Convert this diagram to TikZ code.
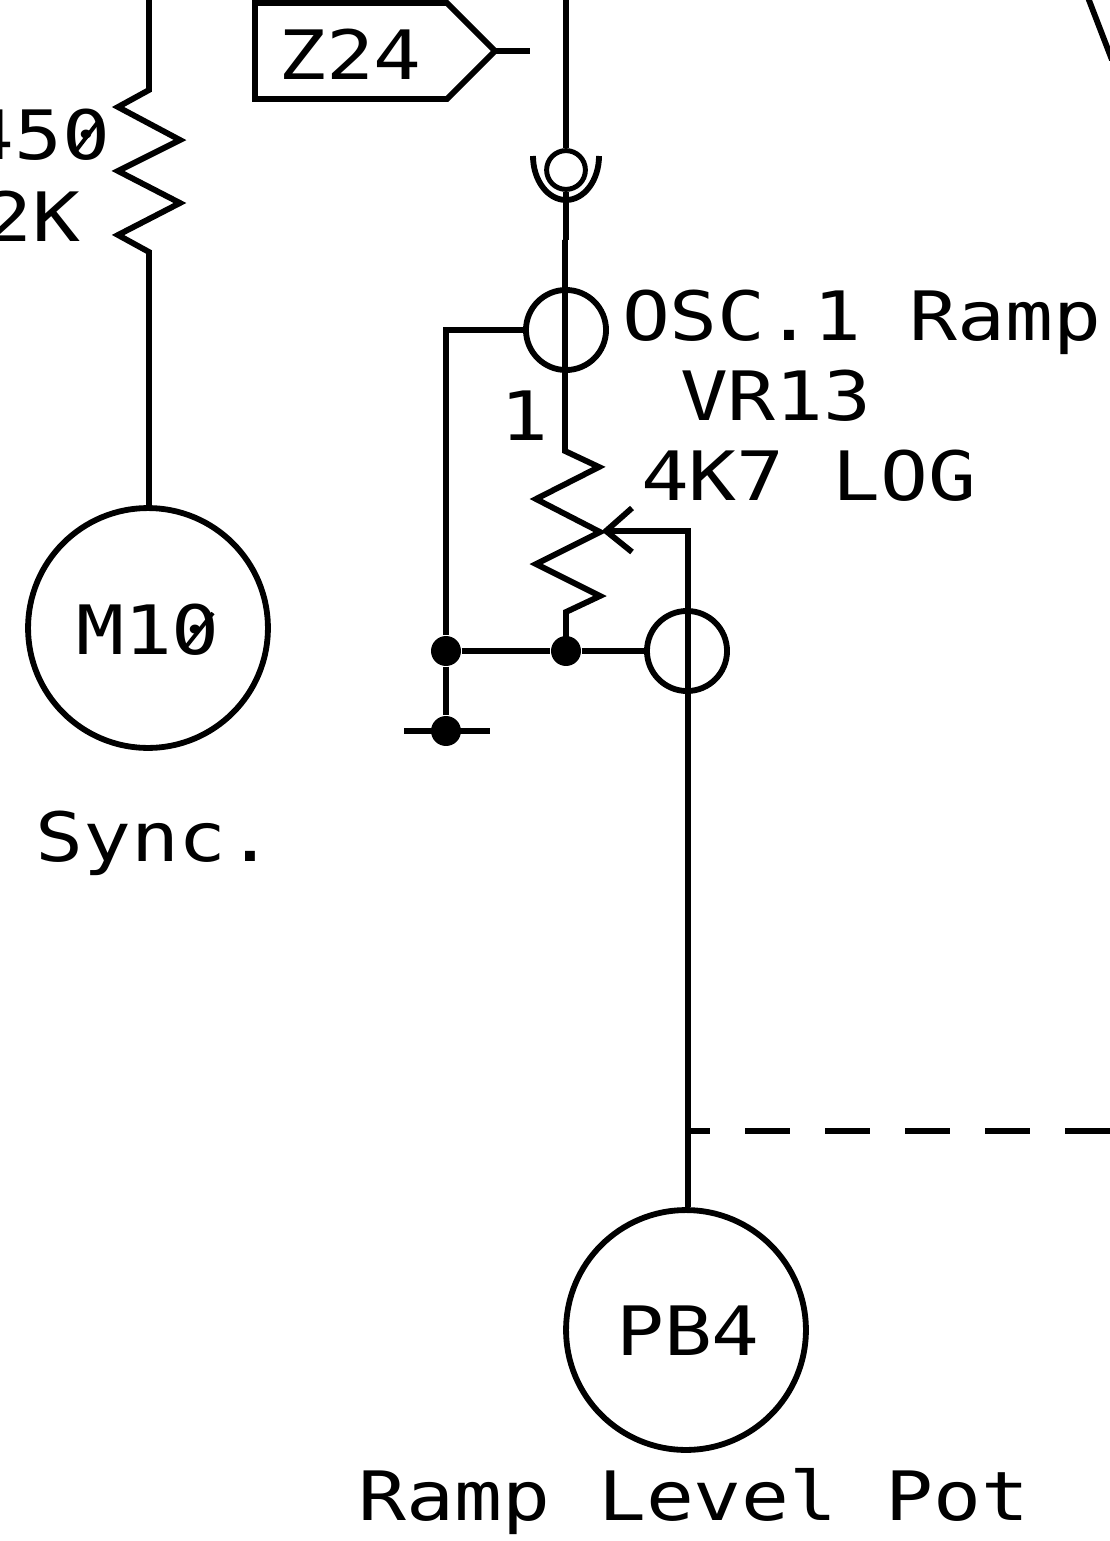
\documentclass[tikz,border=0pt]{standalone}
\usepackage{fontspec}
\setmonofont{DejaVu Sans Mono}
\tikzset{
  wire/.style={line width=1.65pt, line join=miter},
  lbl/.style={inner sep=0pt, outer sep=0pt, font=\ttfamily\fontsize{19.3pt}{22pt}\selectfont, xscale=1.17, text=black},
  pad/.style={circle, draw, line width=1.65pt, minimum size=68pt, inner sep=0pt},
  ring/.style={circle, draw, line width=1.65pt, minimum size=22.7pt, inner sep=0pt},
  dotnode/.style={circle, fill=black, minimum size=8.5pt, inner sep=0pt}
}
\begin{document}
\begin{tikzpicture}[x=0.2835pt, y=-0.2835pt]
\useasboundingbox (0,0) rectangle (1110,1541);
% left column
\coordinate (t1) at (149,-5);
\coordinate (r1) at (149,252);
\node[pad] (M10) at (148,628) {};
\node[lbl] (m10t) at (148,630) {M10};
\draw[wire] (t1) -- (149,90) -- (118,107) -- (180,140) -- (118,171) -- (180,203) -- (118,235) -- (r1) -- (r1 |- M10.north);
\node[lbl, anchor=east] (r450) at (110,135) {450};
\node[lbl, anchor=east] (r2k) at (80,216) {2K};
\draw[line width=1.1pt] (75,152) -- (101,118);
\draw[line width=1.1pt] (185,648) -- (213,613);
\node[lbl] (sync) at (155,843) {Sync.};
% Z24 flag
\coordinate (z0) at (255,3);
\coordinate (ztip) at (495,51);
\coordinate (zend) at (530,51);
\draw[wire] (z0) -- (447,3) -- (ztip) -- (447,99) -- (255,99) -- cycle;
\draw[wire] (ztip) -- (zend);
\node[lbl] (z24) at (350,54) {Z24};
% centre
\coordinate (t2) at (566,-5);
\node[circle, draw, line width=1.4pt, minimum size=11pt, inner sep=0pt] (jack) at (566,170) {};
\draw[wire] (533,156) arc[start angle=180, end angle=0, x radius=33, y radius=44];
\draw[wire] (t2) -- (jack.north);
\node[ring] (sw) at (566,330) {};
\draw[wire] (jack.south) -- (566,240);
\draw[wire] (565,240) -- (565,451) -- (599,467) -- (536,499) -- (600,532) -- (536,564) -- (600,596) -- (566,612) -- (566,651);
\node[dotnode] (d2) at (566,651) {};
\node[dotnode] (d1) at (446,651) {};
\node[dotnode] (gnd) at (446,731) {};
\node[ring] (sw2) at (687,651) {};
\draw[wire] (sw.west) -- (446,330) -- (d1) -- (gnd);
\draw[wire] (404,731) -- (490,731);
\draw[wire] (d1) -- (d2) -- (sw2.west);
\coordinate (wip) at (688,531);
\coordinate (wipe) at (606,531);
\node[pad] (PB4) at (686,1330) {};
\node[lbl] (pb4t) at (688,1331) {PB4};
\draw[wire] (wip |- PB4.north) -- (wip) -- (wipe);
\draw[wire] (632,508) -- (wipe) -- (632,552);
\draw[wire, dash pattern=on 12.76pt off 9.92pt, dash phase=6.5pt] (688,1131) -- (1112,1131);
\draw[wire] (1087,-5) -- (1112,60);
\node[lbl, anchor=west] (osc) at (622,322) {OSC.1 Ramp};
\node[lbl] (one) at (524,416) {1};
\node[lbl, anchor=west] (vr) at (680,396) {VR13};
\node[lbl, anchor=west] (k47) at (641,476) {4K7 LOG};
\node[lbl] (ramp) at (694,1502) {Ramp Level Pot};
\end{tikzpicture}
\end{document}
